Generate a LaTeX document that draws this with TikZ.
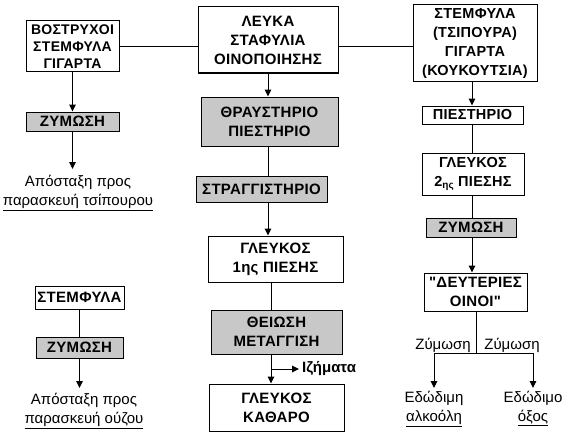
\documentclass[tikz,border=0pt]{standalone}
\usepackage{fontspec}
\setmainfont{Liberation Sans}
\newfontfamily\capsfont[LetterSpace=2]{Liberation Sans}
\usetikzlibrary{arrows.meta}
\definecolor{boxgray}{RGB}{200,200,200}
\begin{document}
\begin{tikzpicture}[x=1pt,y=-1pt,
  box/.style={draw,line width=1pt,align=center,inner sep=0pt,font=\capsfont\fontsize{15}{19}\selectfont\bfseries},
  gbox/.style={box,fill=boxgray},
  lbl/.style={align=center,inner sep=0pt,font=\fontsize{15}{19}\selectfont},
  conn/.style={line width=1pt},
  arr/.style={conn,-{Triangle[length=7pt,width=6.5pt]}}]
\useasboundingbox (0,0) rectangle (570,436);
% column guide coordinates
\coordinate (cA) at (268,0);
\coordinate (cB) at (271,0);
\coordinate (cR) at (472,0);
% top row
\node[box,minimum width=93pt,minimum height=51pt,font=\capsfont\fontsize{14}{17}\selectfont\bfseries] (bostr) at (72.5,46.5) {ΒΟΣΤΡΥΧΟΙ\\ΣΤΕΜΦΥΛΑ\\ΓΙΓΑΡΤΑ};
\node[box,minimum width=140pt,minimum height=66pt] (lefka) at (268,40) {ΛΕΥΚΑ\\ΣΤΑΦΥΛΙΑ\\ΟΙΝΟΠΟΙΗΣΗΣ};
\node[box,minimum width=124pt,minimum height=76pt,font=\capsfont\fontsize{14.5}{19}\selectfont\bfseries] (stemf) at (475,43) {ΣΤΕΜΦΥΛΑ\\(ΤΣΙΠΟΥΡΑ)\\ΓΙΓΑΡΤΑ\\(ΚΟΥΚΟΥΤΣΙΑ)};
\draw[conn] (bostr.east) -- (bostr.east -| lefka.west);
\draw[conn] (lefka.east |- bostr.east) -- (stemf.west |- bostr.east);
% left top column
\node[gbox,minimum width=93pt,minimum height=19pt] (zym1) at (72.5,121.5) {ΖΥΜΩΣΗ};
\node[lbl,anchor=north] (apos1) at (78,175) {Απόσταξη προς\\\underline{παρασκευή τσίπουρου}};
\draw[arr] (bostr.south) -- (zym1.north);
\draw[arr,shorten >=6pt] (zym1.south) -- (zym1.south |- apos1.north);
% center column
\node[gbox,minimum width=137pt,minimum height=49pt] (thraus) at (269.5,121.5) {ΘΡΑΥΣΤΗΡΙΟ\\ΠΙΕΣΤΗΡΙΟ};
\node[gbox,minimum width=131pt,minimum height=26pt] (strag) at (261.5,189) {ΣΤΡΑΓΓΙΣΤΗΡΙΟ};
\node[box,minimum width=135pt,minimum height=46pt] (gl1) at (275.5,259) {ΓΛΕΥΚΟΣ\\1ης ΠΙΕΣΗΣ};
\node[gbox,minimum width=131pt,minimum height=44pt] (thei) at (276.5,332) {ΘΕΙΩΣΗ\\ΜΕΤΑΓΓΙΣΗ};
\node[box,minimum width=135pt,minimum height=47pt] (glk) at (276.5,407.5) {ΓΛΕΥΚΟΣ\\ΚΑΘΑΡΟ};
\draw[arr] (lefka.south) -- (lefka.south |- thraus.north);
\draw[conn] (cA |- thraus.south) -- (cA |- strag.north);
\draw[arr] (cA |- strag.south) -- (cA |- gl1.north);
\draw[conn] (cB |- gl1.south) -- (cB |- thei.north);
\draw[arr] (cB |- thei.south) -- (cB |- glk.north);
\coordinate (izj) at (272,369);
\node[anchor=west,inner sep=0pt,font=\fontsize{15}{16}\selectfont\bfseries] (izm) at (302,369) {Ιζήματα};
\draw[arr,shorten >=3pt] (izj) -- (izm.west);
% right column
\node[box,minimum width=101pt,minimum height=18pt,font=\capsfont\fontsize{14.5}{16}\selectfont\bfseries] (piest) at (472.5,115) {ΠΙΕΣΤΗΡΙΟ};
\node[box,minimum width=102pt,minimum height=42pt,font=\capsfont\fontsize{14.5}{19}\selectfont\bfseries] (gl2) at (473,174) {ΓΛΕΥΚΟΣ\\2\raisebox{-2.5pt}{\fontsize{10}{10}\selectfont ης} ΠΙΕΣΗΣ};
\node[gbox,minimum width=90pt,minimum height=19pt] (zym2) at (471,227.5) {ΖΥΜΩΣΗ};
\node[box,minimum width=103pt,minimum height=38pt] (deut) at (475.5,292) {\char34ΔΕΥΤΕΡΙΕΣ\\ΟΙΝΟΙ\char34};
\draw[arr] (cR |- stemf.south) -- (cR |- piest.north);
\draw[conn] (cR |- piest.south) -- (cR |- gl2.north);
\draw[conn] (cR |- gl2.south) -- (cR |- zym2.north);
\draw[arr] (cR |- zym2.south) -- (cR |- deut.north);
\coordinate (bj) at (476,353);
\node[lbl,anchor=north] (alc) at (434,391) {Εδώδιμη\\\underline{αλκοόλη}};
\node[lbl,anchor=north] (oxos) at (533,391) {Εδώδιμο\\\underline{όξος}};
\node[lbl] (zl) at (443,345) {Ζύμωση};
\node[lbl] (zr) at (512,345) {Ζύμωση};
\draw[conn] (deut.south -| bj) -- (bj);
\draw[arr,shorten >=3pt] (bj) -| (alc.north);
\draw[arr,shorten >=3pt] (bj) -| (oxos.north);
% lower left
\node[box,minimum width=89pt,minimum height=23pt] (stemf2) at (79.5,297.5) {ΣΤΕΜΦΥΛΑ};
\node[gbox,minimum width=87pt,minimum height=21pt] (zym3) at (79.5,347.5) {ΖΥΜΩΣΗ};
\node[lbl,anchor=north] (apos2) at (84,393) {Απόσταξη προς\\\underline{παρασκευή ούζου}};
\draw[conn] (stemf2.south) -- (zym3.north);
\draw[arr,shorten >=5pt] (zym3.south -| stemf2.south) -- (stemf2.south |- apos2.north);
\end{tikzpicture}
\end{document}
